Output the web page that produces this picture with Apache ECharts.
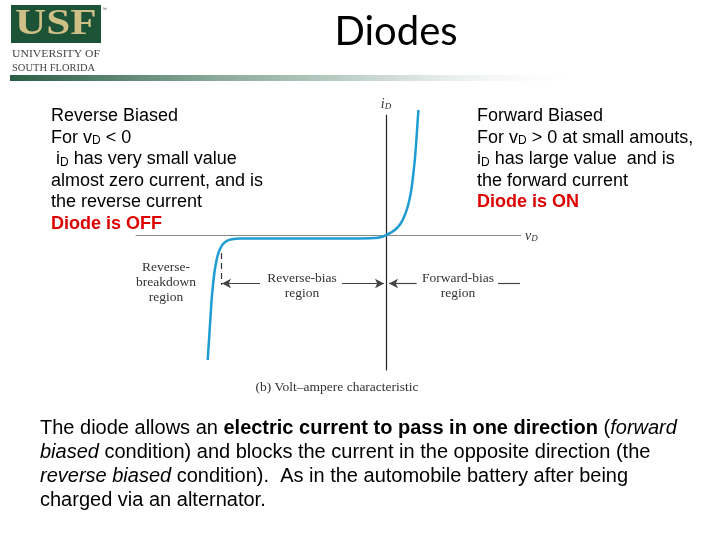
<!DOCTYPE html>
<html><head><meta charset="utf-8">
<script src="https://cdn.jsdelivr.net/npm/echarts@6/dist/echarts.min.js"></script>
<style>html,body{margin:0;padding:0;background:#fff}#c{width:720px;height:540px}</style>
</head><body><div id="c"></div>
<script>
// Diode volt-ampere characteristic (arbitrary units)
const vD = [-8.915, -8.85, -8.785, -8.72, -8.65, -8.575, -8.5, -8.41, -8.3, -8.15, -7.95, -7.7, -7.3, -5.0, -2.0, -0.8, -0.4, -0.15, 0, 0.3, 0.55, 0.75, 0.9, 1.05, 1.18, 1.28, 1.36, 1.44, 1.5, 1.56, 1.62];
const iD = [-12.5, -10.5, -8.5, -6.5, -5.0, -3.7, -2.8, -2.0, -1.4, -0.9, -0.58, -0.43, -0.36, -0.35, -0.35, -0.33, -0.28, -0.15, 0, 0.3, 0.7, 1.2, 1.8, 2.6, 3.6, 4.7, 6.0, 7.5, 9.0, 10.7, 12.5];
const xRange = [-12.5, 6.75];
const yRange = [-13.5, 12];
// region markers: [fromX, toX, y, arrowAtEnd]
const regionArrows = [
  [-6.3, -8.2, -4.85, true],
  [-2.2, -0.1, -4.85, true],
  [1.53, 0.15, -4.85, true],
  [5.6, 6.7, -4.85, false]
];
const breakdownMark = [-8.25, -1.8, -5.0]; // x, yTop, yBottom

const curve = vD.map((v, i) => [v, iD[i]]);
const serif = 'Liberation Serif';
const sans = 'Liberation Sans';

const markData = regionArrows.map(a => [
  {coord: [a[0], a[2]], symbol: 'none'},
  {coord: [a[1], a[2]], symbol: a[3] ? 'arrow' : 'none'}
]);
markData.push([
  {coord: [breakdownMark[0], breakdownMark[1]], symbol: 'none', lineStyle: {type: [6, 4], color: '#333', width: 1.2}},
  {coord: [breakdownMark[0], breakdownMark[2]], symbol: 'none'}
]);

const chart = echarts.init(document.getElementById('c'));
const subRich = {
  n: {fontFamily: sans, fontSize: 18, fill: '#000', lineHeight: 21.5, verticalAlign: 'bottom'},
  s: {fontFamily: sans, fontSize: 12, fill: '#000', lineHeight: 9, verticalAlign: 'bottom'},
  r: {fontFamily: sans, fontSize: 18, fontWeight: 'bold', fill: '#dd0000', lineHeight: 21.5, verticalAlign: 'bottom'}
};
const paraRich = {
  n: {fontFamily: sans, fontSize: 20, fill: '#000', lineHeight: 24},
  b: {fontFamily: sans, fontSize: 20, fontWeight: 'bold', fill: '#000', lineHeight: 24},
  i: {fontFamily: sans, fontSize: 20, fontStyle: 'italic', fill: '#000', lineHeight: 24}
};
const lbl = {fontFamily: serif, fontSize: 13.5, fill: '#333', textAlign: 'center', textVerticalAlign: 'middle'};

chart.setOption({
  animation: false,
  grid: {left: 136, right: 199, top: 115, bottom: 170},
  xAxis: {
    type: 'value', min: xRange[0], max: xRange[1],
    axisLine: {onZero: true, lineStyle: {color: '#8a8a8a', width: 1}},
    axisTick: {show: false}, axisLabel: {show: false}, splitLine: {show: false},
    name: '{v|v}{s|D}', nameLocation: 'end', nameGap: 4,
    nameTextStyle: {rich: {
      v: {fontFamily: serif, fontStyle: 'italic', fontSize: 14, color: '#333', lineHeight: 16, verticalAlign: 'bottom'},
      s: {fontFamily: serif, fontStyle: 'italic', fontSize: 9, color: '#333', lineHeight: 8, verticalAlign: 'bottom'}
    }}
  },
  yAxis: {
    type: 'value', min: yRange[0], max: yRange[1],
    axisLine: {onZero: true, lineStyle: {color: '#222', width: 1.2}},
    axisTick: {show: false}, axisLabel: {show: false}, splitLine: {show: false},
    name: '{v|i}{s|D}', nameLocation: 'end', nameGap: 4,
    nameTextStyle: {rich: {
      v: {fontFamily: serif, fontStyle: 'italic', fontSize: 14, color: '#333', lineHeight: 16, verticalAlign: 'bottom'},
      s: {fontFamily: serif, fontStyle: 'italic', fontSize: 9, color: '#333', lineHeight: 8, verticalAlign: 'bottom'}
    }}
  },
  series: [{
    type: 'line', data: curve, clip: false, showSymbol: false,
    smooth: 0.25,
    lineStyle: {color: '#1e9cd4', width: 2.5},
    markLine: {
      silent: true, symbolSize: [7, 9], animation: false,
      label: {show: false},
      lineStyle: {color: '#444', width: 1.2, type: 'solid'},
      data: markData
    }
  }],
  graphic: [
    {type: 'rect', shape: {x: 11, y: 5, width: 90, height: 38}, style: {fill: '#1c5236'}},
    {type: 'text', x: 15, y: 25, scaleX: 1.2, style: {text: 'USF', fontFamily: serif, fontWeight: 'bold', fontSize: 36, fill: '#cdbf86', textVerticalAlign: 'middle'}},
    {type: 'text', x: 102, y: 7, style: {text: '™', fontFamily: sans, fontSize: 5, fill: '#555'}},
    {type: 'text', x: 12, y: 54, scaleX: 1.17, style: {text: 'UNIVERSITY OF', fontFamily: serif, fontSize: 10, fill: '#444', textVerticalAlign: 'middle'}},
    {type: 'text', x: 12, y: 68, scaleX: 1.05, style: {text: 'SOUTH FLORIDA', fontFamily: serif, fontSize: 10, fill: '#444', textVerticalAlign: 'middle'}},
    {type: 'rect', shape: {x: 10, y: 75, width: 580, height: 6}, style: {fill: new echarts.graphic.LinearGradient(0, 0, 1, 0, [
      {offset: 0, color: '#2b5e45'}, {offset: 0.35, color: '#88a899'}, {offset: 0.75, color: '#e6ede9'}, {offset: 1, color: 'rgba(255,255,255,0)'}])}},
    {type: 'text', x: 396, y: 32, style: {text: 'Diodes', fontFamily: 'Lato', fontSize: 40, fill: '#000', textAlign: 'center', textVerticalAlign: 'middle'}},
    {type: 'text', x: 51, y: 104, style: {rich: subRich, text:
      '{n|Reverse Biased}\n{n|For v}{s|D}{n| < 0}\n{n| i}{s|D}{n| has very small value}\n{n|almost zero current, and is}\n{n|the reverse current}\n{r|Diode is OFF}'}},
    {type: 'text', x: 477, y: 104, style: {rich: subRich, text:
      '{n|Forward Biased}\n{n|For v}{s|D}{n| > 0 at small amouts,}\n{n|i}{s|D}{n| has large value  and is}\n{n|the forward current}\n{r|Diode is ON}'}},
    {type: 'text', x: 166, y: 267, style: Object.assign({text: 'Reverse-'}, lbl)},
    {type: 'text', x: 166, y: 282, style: Object.assign({text: 'breakdown'}, lbl)},
    {type: 'text', x: 166, y: 297, style: Object.assign({text: 'region'}, lbl)},
    {type: 'text', x: 302, y: 278, style: Object.assign({text: 'Reverse-bias'}, lbl)},
    {type: 'text', x: 302, y: 293, style: Object.assign({text: 'region'}, lbl)},
    {type: 'text', x: 458, y: 278, style: Object.assign({text: 'Forward-bias'}, lbl)},
    {type: 'text', x: 458, y: 293, style: Object.assign({text: 'region'}, lbl)},
    {type: 'text', x: 337, y: 387, style: Object.assign({text: '(b) Volt\u2013ampere characteristic'}, lbl)},
    {type: 'text', x: 40, y: 416, style: {rich: paraRich, text:
      '{n|The diode allows an }{b|electric current to pass in one direction}{n| (}{i|forward}\n{i|biased}{n| condition) and blocks the current in the opposite direction (the}\n{i|reverse biased}{n| condition).  As in the automobile battery after being}\n{n|charged via an alternator.}'}}
  ]
});
</script></body></html>
